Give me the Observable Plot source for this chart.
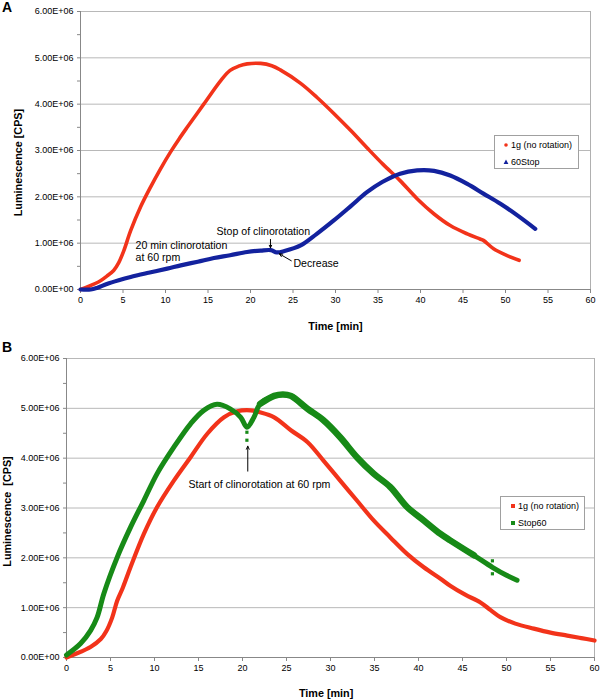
<!DOCTYPE html>
<html><head><meta charset="utf-8">
<script src="https://cdn.jsdelivr.net/npm/d3@7"></script>
<script src="https://cdn.jsdelivr.net/npm/@observablehq/plot@0.6"></script>
<style>
body{margin:0;background:#fff;font-family:Arial,"Liberation Sans",sans-serif;}
#wrap{position:relative;width:600px;height:699px;overflow:hidden;background:#fff}
.panel{position:absolute;left:0}
.tag{position:absolute;font-weight:bold;font-size:14px;line-height:14px;color:#000}
.legend{position:absolute;border:1px solid #a0a0a0;background:#fff;font-size:9px;color:#000;box-sizing:border-box}
.legend .row{position:absolute;left:0;height:12px;line-height:12px;white-space:nowrap}
.legend svg{position:absolute;top:3px}
.legend span{position:absolute}
</style></head>
<body><div id="wrap"></div>
<script>
// ---- data (time [min], luminescence [millions of CPS]) ----
const red1gA = [[0,0],[1,0.07],[2.35,0.19],[3.1,0.29],[3.9,0.41],[4.5,0.58],[5.1,0.84],[5.9,1.27],[7.06,1.78],[8.24,2.21],[9.4,2.6],[10.6,2.97],[11.6,3.25],[12.55,3.5],[14.5,4.0],[16.5,4.51],[17.6,4.73],[18.6,4.82],[19.6,4.87],[21.2,4.88],[22.5,4.83],[23.5,4.74],[25.9,4.45],[27.8,4.15],[29.8,3.8],[31.8,3.43],[33.7,3.06],[35.6,2.7],[37.6,2.35],[39.6,1.96],[41.6,1.63],[43.5,1.38],[45.5,1.2],[47.0,1.09],[47.4,1.06],[48.6,0.88],[50.2,0.73],[51.6,0.63]];
const blue60StopA = [[0,0],[1.2,0],[2,0.04],[3.1,0.12],[4.5,0.2],[5.9,0.27],[8,0.36],[10.2,0.45],[11.8,0.52],[13.8,0.6],[15.7,0.68],[17.6,0.74],[19.6,0.81],[21.2,0.84],[22.4,0.85],[23.1,0.8],[24,0.83],[25.9,0.95],[27.8,1.2],[29.8,1.49],[31.8,1.8],[33.7,2.1],[35.5,2.32],[37.6,2.5],[39.6,2.57],[41.6,2.56],[43.5,2.46],[45.5,2.28],[47.4,2.07],[49.4,1.85],[51.4,1.6],[53.5,1.31]];
const red1gB = [[0,0],[1,0.07],[2.73,0.21],[3.9,0.37],[4.5,0.52],[5.19,0.8],[5.76,1.14],[6.4,1.4],[7.27,1.81],[8.79,2.48],[10.3,3.02],[12.2,3.55],[14.1,4.02],[16.0,4.49],[17.9,4.82],[19.4,4.94],[20.9,4.96],[22.0,4.92],[23.6,4.82],[25.5,4.56],[27.4,4.32],[29.2,3.95],[31.1,3.55],[33.0,3.15],[34.9,2.75],[36.8,2.41],[38.7,2.08],[40.6,1.81],[42.5,1.58],[43.6,1.44],[45.3,1.26],[47,1.11],[48.2,0.95],[49.3,0.81],[51,0.68],[53.1,0.58],[55,0.5],[56.9,0.44],[58.5,0.39],[60,0.34]];
const greenStop60B = [[0,0.05],[1.6,0.28],[2.73,0.54],[3.49,0.81],[4.24,1.28],[5.76,2.01],[7.27,2.61],[8.79,3.15],[10.3,3.69],[12.2,4.22],[14.1,4.69],[15.6,4.96],[17.1,5.08],[18.6,4.99],[19.8,4.82],[20.5,4.62],[21.3,4.82],[22.0,5.09],[23.6,5.25],[24.6,5.28],[25.5,5.25],[27.4,4.99],[29.2,4.76],[31.1,4.42],[33.0,4.02],[34.9,3.69],[36.8,3.42],[38.7,3.02],[40.6,2.75],[42.5,2.48],[43.6,2.35],[46.3,2.05],[48.4,1.81],[50,1.65],[51.2,1.55]];
const greenOutliersB = [[20.5,4.36],[20.5,4.52],[48.4,1.94],[48.4,1.68]];

const xTicks = [0,5,10,15,20,25,30,35,40,45,50,55,60];
const yMajor = [0,1,2,3,4,5,6];
const yMinor = [0.5,1.5,2.5,3.5,4.5,5.5];

const legendA = ["1g (no rotation)", "60Stop"];
const legendB = ["1g (no rotation)", "Stop60"];
const yLabelA = "Luminescence [CPS]";
const yLabelB = "Luminescence  [CPS]";
const xLabel = "Time [min]";

const notesA = [
  {t:6.47, v:0.95, text:"20 min clinorotation"},
  {t:6.47, v:0.69, text:"at 60 rpm"},
  {t:16.0, v:1.24, text:"Stop of clinorotation"},
  {t:25.05, v:0.56, text:"Decrease"}
];
const arrowsA = [
  {t1:22.35, v1:1.08, t2:22.35, v2:0.9},
  {t1:24.8, v1:0.62, t2:23.4, v2:0.77}
];
const notesB = [{t:13.86, v:3.47, text:"Start of clinorotation at 60 rpm"}];
const arrowsB = [{t1:20.6, v1:3.74, t2:20.6, v2:4.24}];

const RED = "#f2331a", BLUE = "#13229e", GREEN = "#178a17";

// scientific label like 6.00E+06
function sci(m) {
  const v = m * 1e6;
  if (v === 0) return "0.00E+00";
  const e = Math.floor(Math.log10(v));
  return (v / Math.pow(10, e)).toFixed(2) + "E+" + String(e).padStart(2, "0");
}

function panel(o) {
  const lines = o.series.map(s => Plot.line(s.data, {x: d => d[0], y: d => d[1], stroke: s.color, strokeWidth: s.width, curve: "catmull-rom", filter: s.filter}));
  return Plot.plot({
    width: 600, height: o.height,
    marginTop: o.mt, marginBottom: o.mb, marginLeft: o.ml, marginRight: o.mr,
    style: {fontFamily: "Arial, 'Liberation Sans', sans-serif", fontSize: "9px", background: "white", color: "#000", overflow: "visible"},
    x: {domain: [0, 60]},
    y: {domain: [0, 6]},
    marks: [
      Plot.ruleY(yMajor.slice(1), {stroke: "#b8b8b8", strokeWidth: 1}),
      Plot.ruleX([60], {stroke: "#b0b0b0", strokeWidth: 1}),
      Plot.axisY({ticks: yMinor, tickFormat: () => "", tickSize: 3, stroke: "#888", label: null}),
      Plot.axisY({ticks: yMajor, tickFormat: sci, tickSize: 3, tickPadding: 4, stroke: "#888", fill: "#000", label: null}),
      Plot.axisX({ticks: xTicks, tickSize: 4, tickPadding: 3, stroke: "#888", fill: "#000", label: null}),
      Plot.ruleX([0], {stroke: "#888", strokeWidth: 1}),
      Plot.ruleY([0], {stroke: "#888", strokeWidth: 1}),
      ...lines,
      ...(o.outliers ? [Plot.dot(o.outliers.data, {x: d => d[0], y: d => d[1], symbol: "square", r: 1.8, fill: o.outliers.color})] : []),
      Plot.text(o.notes, {x: "t", y: "v", text: "text", textAnchor: "start", lineAnchor: "middle", fontSize: 10.6, fill: "#000"}),
      Plot.arrow(o.arrows, {x1: "t1", y1: "v1", x2: "t2", y2: "v2", stroke: "#000", strokeWidth: 1, headLength: 5, headAngle: 50}),
      Plot.text([o.yLabel], {x: o.yLab[0], y: o.yLab[1], rotate: -90, textAnchor: "middle", lineAnchor: "middle", fontWeight: "bold", fontSize: 10.8, fill: "#000"}),
      Plot.text([xLabel], {x: o.xLab[0], y: o.xLab[1], textAnchor: "middle", lineAnchor: "middle", fontWeight: "bold", fontSize: 10.8, fill: "#000"})
    ]
  });
}

const wrap = document.getElementById("wrap");

function place(el, top) { el.classList.add("panel"); el.style.top = top + "px"; wrap.appendChild(el); }

place(panel({
  height: 340, mt: 11, mb: 51, ml: 80, mr: 10,
  series: [{data: red1gA, color: RED, width: 3.6}, {data: blue60StopA, color: BLUE, width: 4.2}],
  notes: notesA, arrows: arrowsA,
  yLabel: yLabelA, yLab: [-7.3, 2.74], xLab: [30, -0.8]
}), 0);

place(panel({
  height: 359, mt: 18, mb: 42, ml: 66, mr: 6,
  series: [
    {data: red1gB, color: RED, width: 4.2},
    {data: greenStop60B, color: GREEN, width: 5},
    {data: greenStop60B, color: GREEN, width: 6.5, filter: d => d[0] >= 22.0 && d[0] <= 46.3}
  ],
  outliers: {data: greenOutliersB, color: GREEN},
  notes: notesB, arrows: arrowsB,
  yLabel: yLabelB, yLab: [-6.7, 2.93], xLab: [29.5, -0.72]
}), 340);

function tag(txt, left, top) {
  const d = document.createElement("div"); d.className = "tag"; d.textContent = txt;
  d.style.left = left + "px"; d.style.top = top + "px"; wrap.appendChild(d);
}
tag("A", 2, 0);
tag("B", 2, 340);

function marker(kind, color) {
  const s = {circle: `<circle cx="3" cy="3" r="1.8" fill="${color}"/>`,
             triangle: `<path d="M3,0.6L5.4,5H0.6Z" fill="${color}"/>`,
             square: `<rect x="1" y="1" width="4" height="4" fill="${color}"/>`}[kind];
  return `<svg width="6" height="6" viewBox="0 0 6 6">${s}</svg>`;
}

function legend(box, entries) {
  const d = document.createElement("div"); d.className = "legend";
  Object.assign(d.style, {left: box.left + "px", top: box.top + "px", width: box.w + "px", height: box.h + "px"});
  entries.forEach((e, i) => {
    const r = document.createElement("div"); r.className = "row";
    r.style.top = (box.rowTop + i * box.gap) + "px";
    r.style.width = box.w + "px";
    r.innerHTML = `<span style="left:${box.mx - 3}px;top:0">${marker(e.kind, e.color)}</span><span style="left:${box.tx}px;top:0">${e.label}</span>`;
    d.appendChild(r);
  });
  wrap.appendChild(d);
}
legend({left: 494, top: 135, w: 85, h: 34, rowTop: 3, gap: 16.5, mx: 11, tx: 16},
  [{label: legendA[0], kind: "circle", color: RED}, {label: legendA[1], kind: "triangle", color: BLUE}]);
legend({left: 500, top: 496, w: 85, h: 34, rowTop: 3, gap: 16.5, mx: 12, tx: 17},
  [{label: legendB[0], kind: "square", color: RED}, {label: legendB[1], kind: "square", color: GREEN}]);
</script></body></html>
